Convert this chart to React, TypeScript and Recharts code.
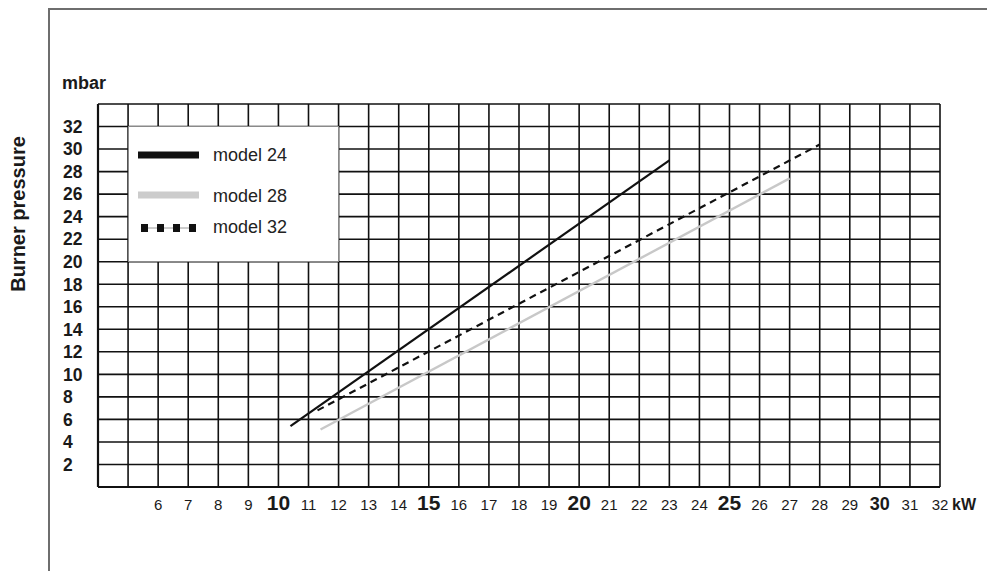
import React from 'react';
import { LineChart, Line, XAxis, YAxis, CartesianGrid, Legend, Customized } from 'recharts';

// ---- data ----
const model24Kw = [10.4, 23];
const model24Mbar = [5.4, 29];
const model28Kw = [11.4, 27];
const model28Mbar = [5.1, 27.4];
const model32Kw = [11.3, 28];
const model32Mbar = [6.8, 30.4];

const seriesNames = ['model 24', 'model 28', 'model 32'];

const xTicks = [4, 5, 6, 7, 8, 9, 10, 11, 12, 13, 14, 15, 16, 17, 18, 19, 20, 21, 22, 23, 24, 25, 26, 27, 28, 29, 30, 31, 32];
const xLabelTicks = [6, 7, 8, 9, 10, 11, 12, 13, 14, 15, 16, 17, 18, 19, 20, 21, 22, 23, 24, 25, 26, 27, 28, 29, 30, 31, 32];
const xBigTicks = [10, 15, 20, 25];
const xMediumTicks = [30];
const yTicks = [0, 2, 4, 6, 8, 10, 12, 14, 16, 18, 20, 22, 24, 26, 28, 30, 32, 34];
const yLabelTicks = [2, 4, 6, 8, 10, 12, 14, 16, 18, 20, 22, 24, 26, 28, 30, 32];

const xTitle = 'kW';
const yUnit = 'mbar';
const yTitle = 'Burner pressure';

const toPoints = (kw: number[], mbar: number[]) => kw.map((k, i) => ({ kw: k, p: mbar[i] }));
const data24 = toPoints(model24Kw, model24Mbar);
const data28 = toPoints(model28Kw, model28Mbar);
const data32 = toPoints(model32Kw, model32Mbar);

const FONT = '"Liberation Sans", Arial, Helvetica, sans-serif';

const XTick = (props: any) => {
  const { x, y, payload } = props;
  const v = payload.value;
  if (!xLabelTicks.includes(v)) return null;
  const big = xBigTicks.includes(v);
  const med = xMediumTicks.includes(v);
  return (
    <text
      x={x}
      y={y + 15}
      textAnchor="middle"
      fontFamily={FONT}
      fontSize={big ? 21 : med ? 18 : 15}
      fontWeight={big || med ? 'bold' : 'normal'}
      fill="#1a1a1a"
    >
      {v}
    </text>
  );
};

const YTick = (props: any) => {
  const { x, y, payload } = props;
  const v = payload.value;
  if (!yLabelTicks.includes(v)) return null;
  return (
    <text
      x={x - 27}
      y={y}
      dy="0.36em"
      textAnchor="start"
      fontFamily={FONT}
      fontSize={17.5}
      fontWeight="bold"
      fill="#1a1a1a"
    >
      {v}
    </text>
  );
};

const LegendBox = () => (
  <div style={{ width: 211, height: 136, background: '#fff', border: '1px solid #8a8a8a', boxSizing: 'border-box' }}>
    <svg width={209} height={134} style={{ display: 'block' }}>
      <rect x={9} y={24.5} width={61} height={7} fill="#111" />
      <text x={84} y={33.5} fontFamily={FONT} fontSize={18} fill="#222">{seriesNames[0]}</text>
      <rect x={9} y={64.5} width={61} height={7} fill="#cccccc" />
      <text x={84} y={74.5} fontFamily={FONT} fontSize={18} fill="#222">{seriesNames[1]}</text>
      <line x1={12} y1={101} x2={66} y2={101} stroke="#9a9a9a" strokeWidth={1} />
      {[12, 28, 44, 60].map((sx) => (
        <rect key={sx} x={sx} y={97} width={7} height={8} fill="#111" />
      ))}
      <text x={84} y={106} fontFamily={FONT} fontSize={18} fill="#222">{seriesNames[2]}</text>
    </svg>
  </div>
);

const Decorations = () => (
  <g>
    <path d="M49,571 L49,9 L987,9" fill="none" stroke="#6e6e6e" strokeWidth={2} />
    <text x={62} y={89} fontFamily={FONT} fontSize={18} fontWeight="bold" fill="#1a1a1a">{yUnit}</text>
    <text
      x={25}
      y={214}
      transform="rotate(-90 25 214)"
      textAnchor="middle"
      fontFamily={FONT}
      fontSize={20}
      fontWeight="bold"
      fill="#1a1a1a"
    >
      {yTitle}
    </text>
    <text x={952} y={510} fontFamily={FONT} fontSize={16} fontWeight="bold" fill="#1a1a1a">{xTitle}</text>
  </g>
);

export default function App() {
  return (
    <div style={{ position: 'absolute', left: 0, top: 0, width: 987, height: 571, background: '#fff' }}>
      <LineChart width={987} height={571} margin={{ top: 104, right: 47, bottom: 54, left: 58 }}>
        <CartesianGrid stroke="#111" strokeWidth={1.6} />
        <XAxis
          dataKey="kw"
          type="number"
          domain={[4, 32]}
          ticks={xTicks}
          interval={0}
          allowDataOverflow
          height={30}
          tickSize={6}
          tickMargin={2}
          tickLine={false}
          axisLine={{ stroke: '#111', strokeWidth: 2.2 }}
          tick={<XTick />}
        />
        <YAxis
          dataKey="p"
          type="number"
          domain={[0, 34]}
          ticks={yTicks}
          interval={0}
          allowDataOverflow
          width={40}
          tickSize={6}
          tickMargin={2}
          tickLine={false}
          axisLine={{ stroke: '#111', strokeWidth: 2.2 }}
          tick={<YTick />}
        />
        <Line data={data28} dataKey="p" name={seriesNames[1]} stroke="#c8c8c8" strokeWidth={2.4} dot={false} isAnimationActive={false} />
        <Line data={data32} dataKey="p" name={seriesNames[2]} stroke="#111" strokeWidth={2.2} strokeDasharray="7 5" dot={false} isAnimationActive={false} />
        <Line data={data24} dataKey="p" name={seriesNames[0]} stroke="#111" strokeWidth={2.2} dot={false} isAnimationActive={false} />
        <Legend
          layout="vertical"
          align="center"
          verticalAlign="middle"
          content={() => <LegendBox />}
          wrapperStyle={{ left: 128, top: 126, width: 211, height: 136 }}
        />
        <Customized component={Decorations} />
      </LineChart>
    </div>
  );
}
